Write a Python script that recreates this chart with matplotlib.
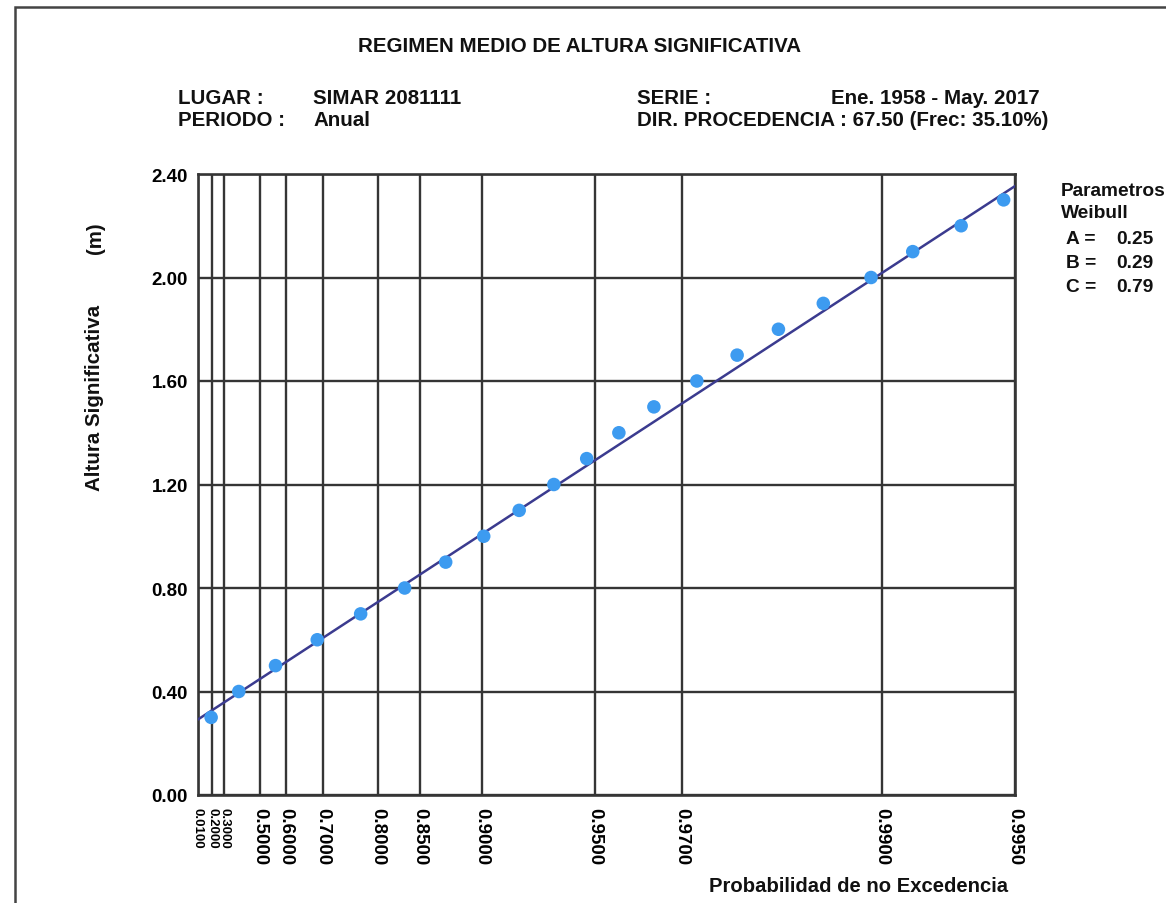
import numpy as np
import matplotlib
matplotlib.use("Agg")
import matplotlib.pyplot as plt
from matplotlib.patches import Rectangle

# Weibull parameters of the fitted distribution
param_a = 0.25
param_b = 0.29
param_c = 0.79

# Empirical points: significant wave height (m) and non-exceedance probability
heights = [0.3, 0.4, 0.5, 0.6, 0.7, 0.8, 0.9, 1.0, 1.1, 1.2, 1.3,
           1.4, 1.5, 1.6, 1.7, 1.8, 1.9, 2.0, 2.1, 2.2, 2.3]
prob_no_exc = [0.1912, 0.3955, 0.5641, 0.6877, 0.7735, 0.8335, 0.8735,
               0.9011, 0.9209, 0.9361, 0.9476, 0.9567, 0.9647, 0.9724,
               0.9780, 0.9825, 0.9863, 0.9894, 0.9915, 0.9934, 0.9947]

# Probability axis ticks and height axis ticks
prob_ticks = [0.01, 0.2, 0.3, 0.5, 0.6, 0.7, 0.8, 0.85, 0.9,
              0.95, 0.97, 0.99, 0.995]
height_ticks = [0.0, 0.4, 0.8, 1.2, 1.6, 2.0, 2.4]

W, H = 1166, 904
fig = plt.figure(figsize=(W / 100, H / 100), dpi=100)
plt.rcParams['font.family'] = ['Liberation Sans', 'DejaVu Sans']


def fx(x):
    return x / W


def fy(y):
    return 1 - y / H


def weibull_fwd(p):
    p = np.clip(np.asarray(p, dtype=float), 0.0, 1 - 1e-12)
    return (-np.log1p(-p)) ** (1.0 / param_c)


def weibull_inv(t):
    t = np.clip(np.asarray(t, dtype=float), 0.0, None)
    return 1 - np.exp(-t ** param_c)


left, right, top, bottom = 197.5, 1015, 175, 796
ax = fig.add_axes([fx(left), fy(bottom), fx(right) - fx(left), fy(top) - fy(bottom)])
ax.set_xscale('function', functions=(weibull_fwd, weibull_inv))
ax.set_xlim(prob_ticks[0], prob_ticks[-1])
ax.set_ylim(height_ticks[0], height_ticks[-1])

grid_col = '#353535'
ax.set_xticks(prob_ticks)
xlabels = ax.set_xticklabels([f"{p:.4f}" for p in prob_ticks], rotation=-90,
                             fontsize=13.5, fontweight='bold', va='top', ha='center')
# the three lowest probabilities sit very close together
for lbl in xlabels[:3]:
    lbl.set_fontsize(9.5)
ax.set_yticks(height_ticks)
ax.set_yticklabels([f"{h:.2f}" for h in height_ticks],
                   fontsize=13.5, fontweight='bold')
ax.xaxis.set_minor_locator(matplotlib.ticker.NullLocator())
ax.tick_params(axis='x', length=0, pad=9)
ax.tick_params(axis='y', length=0, pad=7)
ax.grid(True, color=grid_col, linewidth=1.7)
for s in ax.spines.values():
    s.set_color(grid_col)
    s.set_linewidth(1.9)
ax.set_axisbelow(True)

# Fitted Weibull line
p_line = np.linspace(prob_ticks[0], prob_ticks[-1], 400)
h_line = param_b + param_a * weibull_fwd(p_line)
ax.plot(p_line, h_line, color='#3b3b8f', linewidth=1.8, zorder=3)

# Empirical points
ax.scatter(prob_no_exc, heights, s=95, color='#3d9bf0', edgecolors='none', zorder=4)

# Header texts
fs = 14.8
bold = dict(fontweight='bold', color='#111111')
fig.text(fx(580), fy(47), "REGIMEN MEDIO DE ALTURA SIGNIFICATIVA", ha='center', va='center', fontsize=fs, **bold)
fig.text(fx(178), fy(98), "LUGAR :", ha='left', va='center', fontsize=fs, **bold)
fig.text(fx(313), fy(98), "SIMAR 2081111", ha='left', va='center', fontsize=fs, **bold)
fig.text(fx(637), fy(98), "SERIE :", ha='left', va='center', fontsize=fs, **bold)
fig.text(fx(1040), fy(98), "Ene. 1958 - May. 2017", ha='right', va='center', fontsize=fs, **bold)
fig.text(fx(178), fy(121), "PERIODO :", ha='left', va='center', fontsize=fs, **bold)
fig.text(fx(313), fy(121), "Anual", ha='left', va='center', fontsize=fs, **bold)
fig.text(fx(637), fy(121), "DIR. PROCEDENCIA : 67.50 (Frec: 35.10%)", ha='left', va='center', fontsize=fs, **bold)

# Parameter box on the right
fsp = 13.8
fig.text(fx(1061), fy(192), "Parametros", ha='left', va='center', fontsize=fsp, **bold)
fig.text(fx(1061), fy(213), "Weibull", ha='left', va='center', fontsize=fsp, **bold)
for i, (name, val) in enumerate([("A", param_a), ("B", param_b), ("C", param_c)]):
    y = 240 + 24 * i
    fig.text(fx(1066), fy(y), f"{name} =", ha='left', va='center', fontsize=fsp, **bold)
    fig.text(fx(1116), fy(y), f"{val:.2f}", ha='left', va='center', fontsize=fsp, **bold)

# Axis titles
fig.text(fx(95), fy(398), "Altura Significativa", rotation=90, ha='center', va='center', fontsize=14.8, **bold)
fig.text(fx(95), fy(238), "(m)", rotation=90, ha='center', va='center', fontsize=14.8, **bold)
fig.text(fx(859), fy(887), "Probabilidad de no Excedencia", ha='center', va='center', fontsize=14.6, **bold)

# Page frame
fig.patches.append(Rectangle((fx(15), fy(H + 20)), 1.2, fy(8) - fy(H + 20),
                             transform=fig.transFigure, fill=False,
                             edgecolor='#444444', linewidth=1.8, figure=fig))

fig.savefig("out.png", dpi=100)
